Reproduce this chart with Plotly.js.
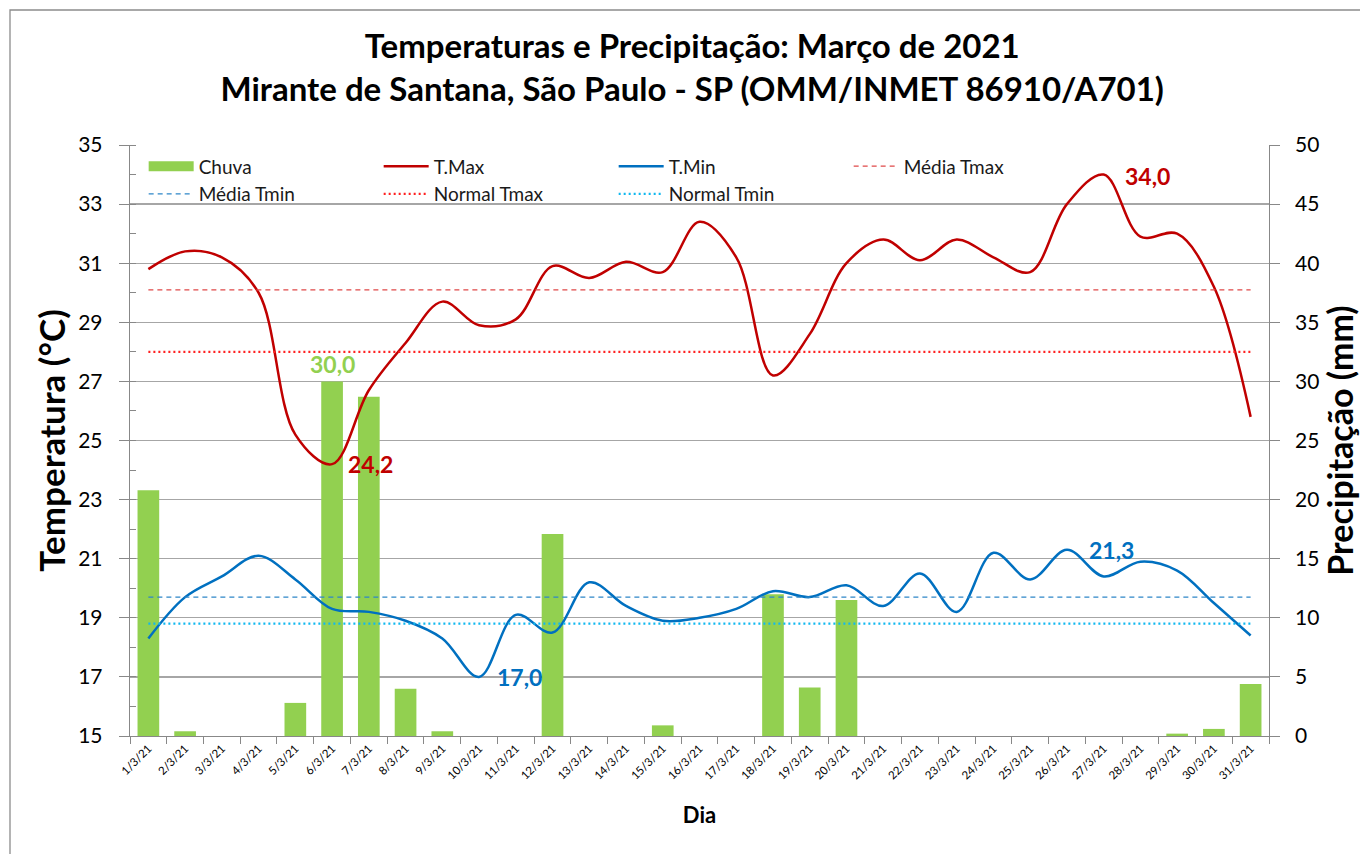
<!DOCTYPE html>
<html>
<head>
<meta charset="utf-8">
<script src="https://cdn.plot.ly/plotly-3.0.1.min.js"></script>
<style>html,body{margin:0;padding:0;background:#fff;}#chart{width:1360px;height:854px;}</style>
</head>
<body>
<div id="chart"></div>
<script>
const dias = ['1/3/21','2/3/21','3/3/21','4/3/21','5/3/21','6/3/21','7/3/21','8/3/21','9/3/21','10/3/21',
  '11/3/21','12/3/21','13/3/21','14/3/21','15/3/21','16/3/21','17/3/21','18/3/21','19/3/21','20/3/21',
  '21/3/21','22/3/21','23/3/21','24/3/21','25/3/21','26/3/21','27/3/21','28/3/21','29/3/21','30/3/21','31/3/21'];
const chuva = [20.8,0.4,0,0,2.8,30.0,28.7,4.0,0.4,0,0,17.1,0,0,0.9,0,0,12.0,4.1,11.5,0,0,0,0,0,0,0,0,0.2,0.6,4.4];
const tmax = [30.8,31.4,31.2,30.0,25.2,24.2,26.7,28.3,29.7,28.9,29.1,30.9,30.5,31.05,30.7,32.4,31.2,27.2,28.6,31.0,
  31.8,31.1,31.8,31.2,30.7,33.0,34.0,31.9,32.0,30.2,25.8];
const tmin = [18.3,19.7,20.4,21.1,20.3,19.3,19.2,18.9,18.3,17.0,19.1,18.5,20.2,19.4,18.9,19.0,19.3,19.9,19.7,20.1,
  19.4,20.5,19.2,21.2,20.3,21.3,20.4,20.9,20.6,19.5,18.4];
const mediaTmax = 30.1;
const normalTmax = 28.0;
const mediaTmin = 19.7;
const normalTmin = 18.8;

const FONT = 'Lato, "Open Sans", sans-serif';
const fmt = v => v.toFixed(1).replace('.', ',');
const cst = v => dias.map(() => v);

const iMaxT = tmax.indexOf(Math.max(...tmax));
const iMinT = tmax.indexOf(Math.min(...tmax));
const iMaxN = tmin.indexOf(Math.max(...tmin));
const iMinN = tmin.indexOf(Math.min(...tmin));
const iMaxC = chuva.indexOf(Math.max(...chuva));

const data = [
  {type:'bar', name:'Chuva', x:dias, y:chuva, yaxis:'y', marker:{color:'#92D050'}, width:0.59, showlegend:false},
  {type:'scatter', mode:'lines', name:'Chuva', x:[null], y:[null], yaxis:'y', line:{color:'#92D050', width:11}, showlegend:true},
  {type:'scatter', mode:'lines', name:'T.Max', x:dias, y:tmax, yaxis:'y2', line:{color:'#C00000', width:2.5, shape:'spline', smoothing:1}},
  {type:'scatter', mode:'lines', name:'T.Min', x:dias, y:tmin, yaxis:'y2', line:{color:'#0070C0', width:2.5, shape:'spline', smoothing:1}},
  {type:'scatter', mode:'lines', name:'Média Tmax', x:dias, y:cst(mediaTmax), yaxis:'y2', line:{color:'#E04848', width:1.3, dash:'5px,4px'}},
  {type:'scatter', mode:'lines', name:'Média Tmin', x:dias, y:cst(mediaTmin), yaxis:'y2', line:{color:'#2E86C8', width:1.3, dash:'5px,4px'}},
  {type:'scatter', mode:'lines', name:'Normal Tmax', x:dias, y:cst(normalTmax), yaxis:'y2', line:{color:'#FF2020', width:2.2, dash:'2px,3px'}},
  {type:'scatter', mode:'lines', name:'Normal Tmin', x:dias, y:cst(normalTmin), yaxis:'y2', line:{color:'#10B8F0', width:2.2, dash:'2px,3px'}}
];

const layout = {
  width:1360, height:854,
  paper_bgcolor:'#fff', plot_bgcolor:'#fff',
  margin:{l:130, r:91, t:145, b:118},
  font:{family:FONT, color:'#000'},
  title:{text:'Temperaturas e Precipitação: Março de 2021<br>Mirante de Santana, São Paulo - SP (OMM/INMET 86910/A701)',
    font:{family:FONT, size:33, color:'#000', weight:'bold'}, x:0.509, xanchor:'center', y:0.932, yanchor:'top'},
  showlegend:true,
  legend:{orientation:'h', x:0.012, xanchor:'left', y:0.996, yanchor:'top', bgcolor:'rgba(0,0,0,0)', itemwidth:45,
    font:{family:FONT, size:19, color:'#1a1a1a'}, entrywidth:175, entrywidthmode:'pixels', traceorder:'normal', tracegroupgap:0},
  xaxis:{type:'category', categoryorder:'array', categoryarray:dias, tickangle:-45,
    tickfont:{family:FONT, size:11.5, color:'#000'}, ticks:'outside', ticklen:7, tickcolor:'#888', tickson:'boundaries',
    showline:true, linecolor:'#888', linewidth:1.3, showgrid:false, zeroline:false,
    title:{text:'Dia', font:{family:FONT, size:22, weight:'bold', color:'#000'}, standoff:26}},
  yaxis:{side:'right', range:[0,50], dtick:5, tick0:0, showgrid:false, zeroline:false,
    ticks:'outside', ticklen:10, tickcolor:'#888', showline:true, linecolor:'#888', linewidth:1.3,
    tickfont:{family:FONT, size:21, color:'#000'}, tickprefix:'\u2002',
    title:{text:'Precipitação (mm)', font:{family:FONT, size:34, weight:'bold', color:'#000'}, standoff:4}},
  yaxis2:{overlaying:'y', side:'left', range:[15,35], dtick:2, tick0:15, showgrid:true, gridcolor:'#a6a6a6', gridwidth:1.3,
    zeroline:false, ticks:'outside', ticklen:10, tickcolor:'#888', showline:true, linecolor:'#888', linewidth:1.3,
    minor:{dtick:1, ticks:'inside', ticklen:6, tickcolor:'#888', showgrid:false},
    tickfont:{family:FONT, size:21, color:'#000'}, ticklabelstandoff:12,
    title:{text:'Temperatura (°C)', font:{family:FONT, size:35, weight:'bold', color:'#000'}, standoff:2}},
  shapes:[{type:'rect', xref:'paper', yref:'paper', x0:-120/1139, x1:1.2, y0:-0.3, y1:1+135/591,
    line:{color:'#8c8c8c', width:1.3}, fillcolor:'rgba(0,0,0,0)', layer:'below'}],
  annotations:[
    {x:dias[iMaxC], y:chuva[iMaxC], xref:'x', yref:'y', text:fmt(chuva[iMaxC]), showarrow:false, yshift:17,
      font:{family:FONT, size:23, weight:'bold', color:'#92D050'}},
    {x:dias[iMinT], y:tmax[iMinT], xref:'x', yref:'y2', text:fmt(tmax[iMinT]), showarrow:false, xshift:38, yshift:0,
      font:{family:FONT, size:23, weight:'bold', color:'#C00000'}},
    {x:dias[iMaxT], y:tmax[iMaxT], xref:'x', yref:'y2', text:fmt(tmax[iMaxT]), showarrow:false, xshift:44, yshift:-1,
      font:{family:FONT, size:23, weight:'bold', color:'#C00000'}},
    {x:dias[iMinN], y:tmin[iMinN], xref:'x', yref:'y2', text:fmt(tmin[iMinN]), showarrow:false, xshift:40, yshift:0,
      font:{family:FONT, size:23, weight:'bold', color:'#0070C0'}},
    {x:dias[iMaxN], y:tmin[iMaxN], xref:'x', yref:'y2', text:fmt(tmin[iMaxN]), showarrow:false, xshift:45, yshift:0,
      font:{family:FONT, size:23, weight:'bold', color:'#0070C0'}}
  ]
};

Plotly.newPlot('chart', data, layout, {displayModeBar:false, staticPlot:true});
</script>
</body>
</html>
